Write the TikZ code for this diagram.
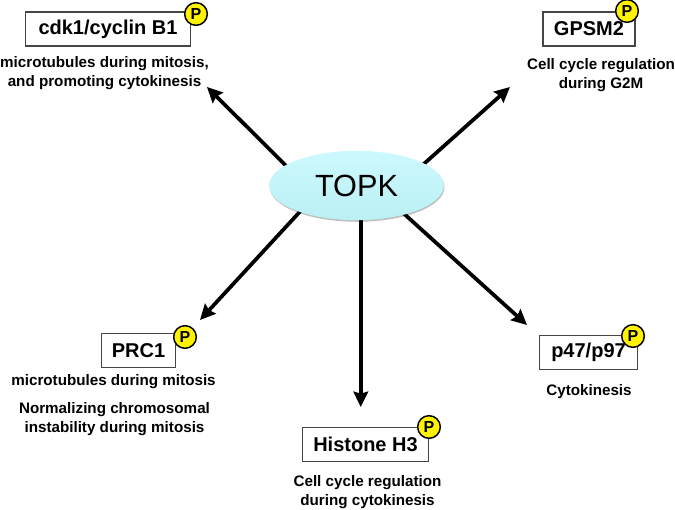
\documentclass[tikz,border=0pt]{standalone}
\usepackage{fontspec}
\setmainfont{Liberation Sans}
\usetikzlibrary{arrows.meta,shapes.geometric,shadows,backgrounds}
\definecolor{boxline}{RGB}{70,70,70}
\definecolor{kinasetop}{RGB}{204,249,253}
\definecolor{kinasebottom}{RGB}{186,240,245}
\tikzset{
  x=0.75pt,y=-0.75pt,
  target/.style={draw=boxline,line width=0.9pt,fill=white,inner sep=0pt,minimum height=25.5pt,font=\bfseries\fontsize{15}{15}\selectfont},
  phospho/.style={circle,draw=black,line width=1.1pt,fill=yellow,inner sep=0pt,minimum size=17pt,font=\bfseries\fontsize{12}{12}\selectfont},
  note/.style={align=center,font=\bfseries\fontsize{11.4}{14.4}\selectfont},
  kinase/.style={ellipse,inner sep=0pt,minimum width=131pt,minimum height=52pt,top color=kinasetop,bottom color=kinasebottom,draw=none,
    drop shadow={shadow xshift=0.5pt,shadow yshift=-1.2pt,fill=black,opacity=0.25},font=\fontsize{23}{23}\selectfont},
  link/.style={line width=2.8pt,shorten <=-3pt,-{Stealth[length=11.5pt,width=11pt,inset=1.5pt]}}
}
\begin{document}
\begin{tikzpicture}
\useasboundingbox (0,0) rectangle (675,510);

\node[kinase] (topk) at (356.5,185.5) {TOPK};

% free ends of the arrows
\coordinate (e1) at (207,87);
\coordinate (e2) at (510,87);
\coordinate (e3) at (200,320);
\coordinate (e4) at (topk.277 |- 0,407);
\coordinate (e5) at (527,325);

% the arrows run out from behind the kinase ellipse
\begin{scope}[on background layer]
\draw[link] (topk.164) -- (e1);
\draw[link] (topk.18) -- (e2);
\draw[link] (topk.205) -- (e3);
\draw[link] (topk.277) -- (e4);
\draw[link] (topk.329) -- (e5);
\end{scope}

% phosphorylated substrates
\node[target,minimum width=124pt] (cdk) at (108,29) {\raisebox{-1pt}{cdk1/cyclin B1}};
\node[phospho] (pcdk) at (196,14) {P};
\node[note] (ncdk) at (104.5,73) {microtubules during mitosis,\\and promoting cytokinesis};

\node[target,minimum width=69pt] (gpsm) at (589,29) {GPSM2};
\node[phospho] (pgpsm) at (627,11) {P};
\node[note] (ngpsm) at (601,75) {Cell cycle regulation\\during G2M};

\node[target,minimum width=55pt] (prc) at (138.5,350.5) {PRC1};
\node[phospho] (pprc) at (185,337) {P};
\node[note] (nprc) at (113.5,382) {microtubules during mitosis};
\node[note] (nprc2) at (114.5,419.5) {Normalizing chromosomal\\instability during mitosis};

\node[target,minimum width=95pt] (his) at (365.5,444.5) {Histone H3};
\node[phospho] (phis) at (429,427) {P};
\node[note] (nhis) at (367.5,492) {Cell cycle regulation\\during cytokinesis};

\node[target,minimum width=73pt] (p47) at (588.5,352.5) {p47/p97};
\node[phospho] (pp47) at (633,336) {P};
\node[note] (np47) at (589,392) {Cytokinesis};
\end{tikzpicture}
\end{document}
